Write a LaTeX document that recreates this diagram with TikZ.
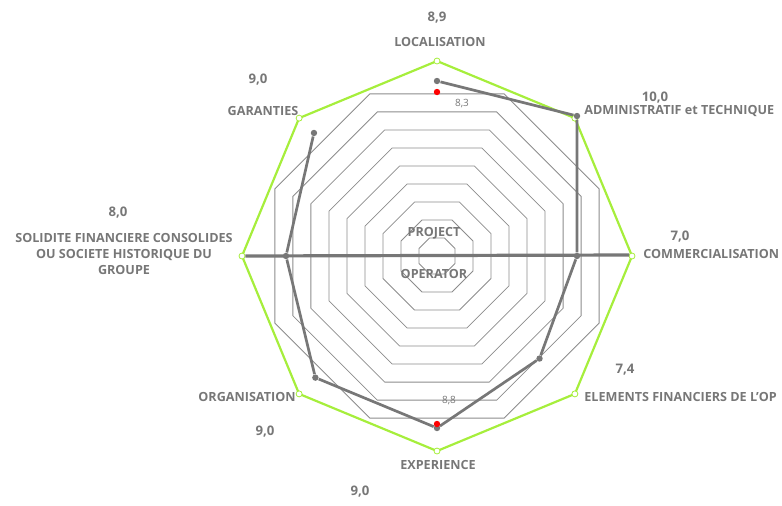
\documentclass[tikz,border=0pt]{standalone}
\usepackage{fontspec}
\setmainfont{Open Sans}
\usetikzlibrary{calc}
\definecolor{axisgray}{HTML}{777777}
\definecolor{ringgray}{HTML}{8C8C8C}
\definecolor{limegreen}{HTML}{A6EE3C}
\begin{document}
\begin{tikzpicture}[x=0.5pt,y=-0.5pt,
    lbl/.style = {font=\bfseries\fontsize{6.3}{7.8}\selectfont,text=axisgray,inner sep=1pt},
    val/.style = {font=\bfseries\fontsize{6.6}{8}\selectfont,text=axisgray,inner sep=1pt},
    small/.style = {font=\fontsize{5}{6}\selectfont,text=axisgray,inner sep=1pt},
    ring/.style = {draw=ringgray,line width=0.4pt},
    series/.style = {draw=axisgray,line width=1.35pt,line join=round},
    dot/.style = {circle,fill=axisgray,inner sep=0pt,minimum size=3.2pt},
    reddot/.style = {circle,fill=red,inner sep=0pt,minimum size=3.2pt},
    tip/.style = {circle,draw=limegreen,fill=white,inner sep=0pt,minimum size=3pt,line width=0.4pt}]
\useasboundingbox (0,0) rectangle (782,505);
\coordinate (c) at (437,256);
% grid rings
\foreach \k in {1,...,9}
    \draw[ring] ($(c)+(22.5:\k*19.5)$) \foreach \a in {67.5,112.5,...,337.5} {-- ($(c)+(\a:\k*19.5)$)} -- cycle;
% outer octagon
\draw[limegreen,line width=1.1pt] ($(c)+(0:195)$) \foreach \a in {45,90,...,315} {-- ($(c)+(\a:195)$)} -- cycle;
\foreach \a [count=\i] in {0,45,...,315}
    \node[tip] (v\i) at ($(c)+(\a:195)$) {};
% horizontal axis
\draw[axisgray,line width=1.6pt] (v5) -- (629,255);
% data series
\foreach \a/\r [count=\i] in {-90/175, -45/198, 0/140, 45/145, 90/172, 135/172, 180/151, 225/174}
    \node[dot] (p\i) at ($(c)+(\a:\r)$) {};
\draw[series] (p1) -- (p2) -- (p3) -- (p4) -- (p5) -- (p6) -- (p7) -- (p8) -- cycle;
\node[reddot] (r1) at (437,92) {};
\node[reddot] (r2) at (437,424) {};
\node[small] (s1) at (462,104) {8,3};
\node[small] (s2) at (449,401) {8,8};
% center labels
\node[lbl] (proj) at (434,233) {PROJECT};
\node[lbl] (oper) at (434,274) {OPERATOR};
% axis labels
\node[val] (n1) at (437,18) {8,9};
\node[lbl] (a1) at (440,42) {LOCALISATION};
\node[val] (n2) at (655,98) {10,0};
\node[lbl,anchor=west] (a2) at (582,111) {ADMINISTRATIF et TECHNIQUE};
\node[val] (n3) at (680,237) {7,0};
\node[lbl,anchor=west] (a3) at (641,254) {COMMERCIALISATION};
\node[val] (n4) at (625,370) {7,4};
\node[lbl,anchor=west] (a4) at (582,397) {ELEMENTS FINANCIERS DE L'OP};
\node[lbl] (a5) at (438,465) {EXPERIENCE};
\node[val] (n5) at (360,492) {9,0};
\node[lbl] (a6) at (247,397) {ORGANISATION};
\node[val] (n6) at (265,432) {9,0};
\node[val] (n7) at (118,213) {8,0};
\node[lbl,align=center] (a7) at (124,254) {SOLIDITE FINANCIERE CONSOLIDES\\OU SOCIETE HISTORIQUE DU\\GROUPE};
\node[val] (n8) at (258,80) {9,0};
\node[lbl] (a8) at (263,111) {GARANTIES};
\end{tikzpicture}
\end{document}
